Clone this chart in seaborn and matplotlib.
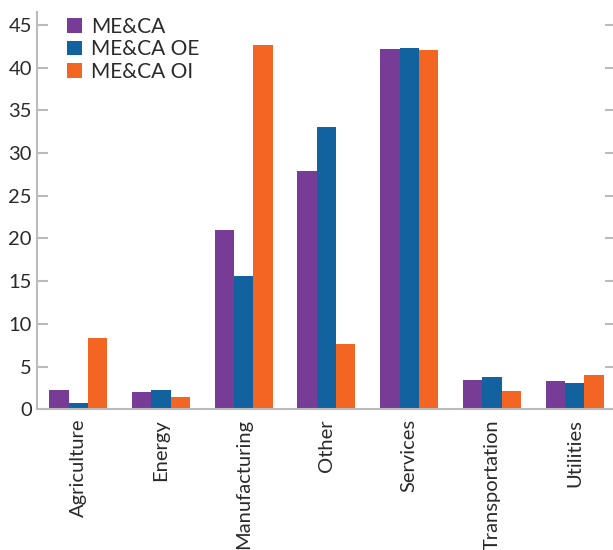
import pandas as pd
import seaborn as sns
import matplotlib.pyplot as plt
from matplotlib.ticker import FixedLocator

sectors = ["Agriculture", "Energy", "Manufacturing", "Other", "Services", "Transportation", "Utilities"]
meca = [2.3, 2.0, 21.0, 27.9, 42.2, 3.4, 3.3]
meca_oe = [0.7, 2.2, 15.6, 33.1, 42.3, 3.75, 3.05]
meca_oi = [8.3, 1.4, 42.6, 7.6, 42.1, 2.1, 4.0]
groups = ["ME&CA", "ME&CA OE", "ME&CA OI"]
colors = ["#763C96", "#1362A0", "#F26522"]

df = pd.DataFrame({"Sector": sectors * 3,
                   "Group": [g for g in groups for _ in sectors],
                   "Value": meca + meca_oe + meca_oi})

sns.set_style("white")
plt.rcParams['font.family'] = ['Lato', 'DejaVu Sans']
plt.rcParams['font.size'] = 14.5

fig = plt.figure(figsize=(6.13, 5.5), dpi=100)
ax = fig.add_axes([0.060, 0.256, 0.945, 0.722])
sns.barplot(data=df, x="Sector", y="Value", hue="Group", palette=colors,
            width=0.7, saturation=1, ax=ax, edgecolor="none")

ax.set_xlim(-0.5, 6.5)
ax.set_ylim(0, 46.5)
ax.set_yticks(range(0, 50, 5))
ax.set_xlabel("")
ax.set_ylabel("")

ax.spines["top"].set_visible(False)
for s in ["left", "bottom", "right"]:
    ax.spines[s].set_color("#BBBBBB")
    ax.spines[s].set_linewidth(1.5)

ax.tick_params(axis="x", which="major", length=0, labelrotation=90, labelsize=14.5,
               labelcolor="#2a2a2a", pad=7)
ax.xaxis.set_minor_locator(FixedLocator([i + 0.5 for i in range(-1, 7)]))
ax.tick_params(axis="x", which="minor", direction="in", length=8, width=1.5, color="#BBBBBB")
ax.tick_params(axis="y", direction="in", length=8, width=1.5, color="#BBBBBB",
               labelsize=14.5, labelcolor="#2a2a2a", right=True, left=True)

leg = ax.legend(loc="upper left", bbox_to_anchor=(0.02, 1.035), frameon=False, fontsize=15,
                handlelength=0.7, handleheight=0.7, handletextpad=0.45, labelspacing=0.12)
for t in leg.get_texts():
    t.set_color("#2a2a2a")

fig.savefig("out.png", dpi=100)
